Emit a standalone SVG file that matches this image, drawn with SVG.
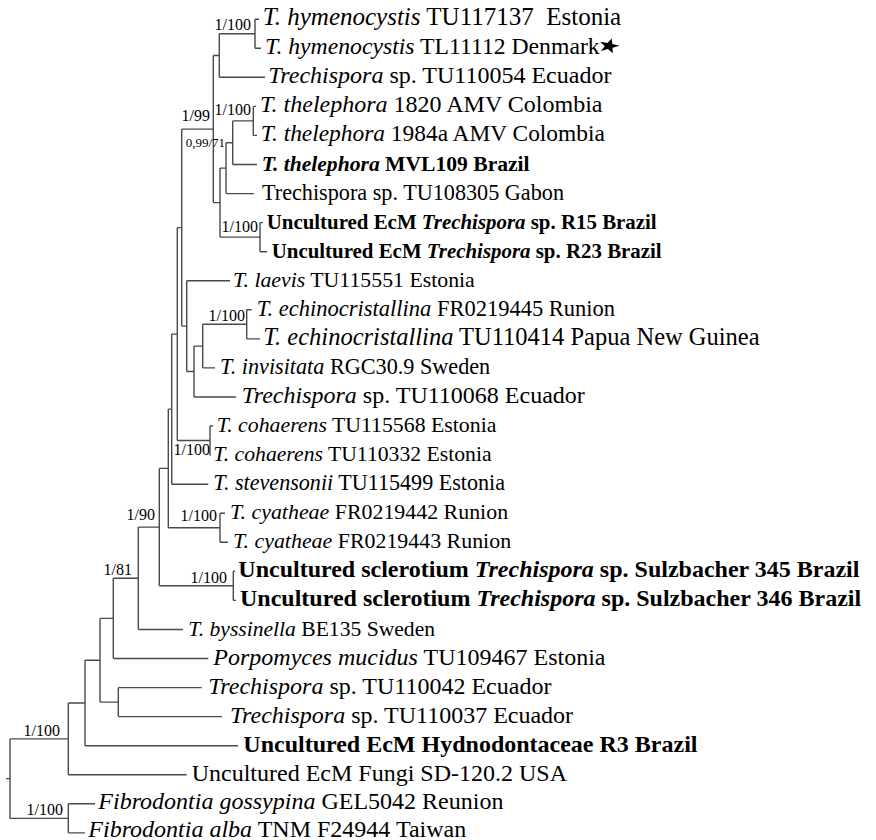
<svg xmlns="http://www.w3.org/2000/svg" width="876" height="840" viewBox="0 0 876 840">
<style>
.br{fill:none;stroke:#4a4a4a;stroke-width:1.4}
.t{font-family:"Liberation Serif","Times New Roman",serif;font-size:24px;fill:#000}
.b{font-weight:bold}
.i{font-style:italic}
.s{font-family:"Liberation Serif","Times New Roman",serif;font-size:16px;fill:#000;text-anchor:end}
.s2{font-size:13px}
</style>
<rect width="876" height="840" fill="#fff"/>
<g id="connectors" class="br">
<path d="M6,778.6H10M10,738.9V818.4M10,738.9H68.3M10,818.4H68.3"/>
<path d="M68.3,703V774.8M68.3,703H85M68.3,774.8H186.7"/>
<path d="M68.3,803.8V832.9M68.3,803.8H95M68.3,832.9H85"/>
<path d="M85,660.2V745.7M85,660.2H100M85,745.7H238"/>
<path d="M100,618.4V702.1M100,618.4H113.3M100,702.1H118.3"/>
<path d="M118.3,687.6V716.6M118.3,687.6H201.7M118.3,716.6H222"/>
<path d="M113.3,578.3V658.5M113.3,578.3H138.3M113.3,658.5H208.3"/>
<path d="M138.3,527.1V629.5M138.3,527.1H159.3M138.3,629.5H183"/>
<path d="M159.3,468.4V585.8M159.3,468.4H168.3M159.3,585.8H233.3"/>
<path d="M233.3,571.3V600.4M233.3,571.3H235M233.3,600.4H236"/>
<path d="M168.3,409.1V527.7M168.3,409.1H171.7M168.3,527.7H220"/>
<path d="M220,513.2V542.3M220,513.2H225M220,542.3H228"/>
<path d="M171.7,334.1V484.2M171.7,334.1H177.3M171.7,484.2H208.3"/>
<path d="M177.3,227.6V440.5M177.3,227.6H181.7M177.3,440.5H210"/>
<path d="M210,426V455.1M210,426H213M210,455.1H211"/>
<path d="M181.7,129.1V326.1M181.7,129.1H213.3M181.7,326.1H186.7"/>
<path d="M186.7,280.7V371.5M186.7,280.7H230M186.7,371.5H194"/>
<path d="M194,346.1V397M194,346.1H202.7M194,397H236"/>
<path d="M202.7,324.3V367.9M202.7,324.3H246.7M202.7,367.9H215"/>
<path d="M246.7,309.8V338.9M246.7,309.8H251.7M246.7,338.9H260"/>
<path d="M213.3,55.5V202.6M213.3,55.5H219.3M213.3,202.6H220"/>
<path d="M219.3,33.75V77.3M219.3,33.75H255M219.3,77.3H265"/>
<path d="M255,19.2V48.3M255,19.2H259M255,48.3H261"/>
<path d="M220,168.1V237.1M220,168.1H226M220,237.1H260"/>
<path d="M260,222.6V251.7M260,222.6H263M260,251.7H267"/>
<path d="M226,142.7V193.6M226,142.7H232.7M226,193.6H254"/>
<path d="M232.7,120.9V164.5M232.7,120.9H253.3M232.7,164.5H257"/>
<path d="M253.3,106.4V135.4M253.3,106.4H256M253.3,135.4H257"/>
</g>
<g id="supports">
<text id="s-hym" class="s" x="251" y="30">1/100</text>
<text id="s-the" class="s" x="251" y="115">1/100</text>
<text id="s-199" class="s" x="210" y="121">1/99</text>
<text id="s-09971" class="s s2" x="225" y="147">0,99/71</text>
<text id="s-r15" class="s" x="258" y="232">1/100</text>
<text id="s-ech" class="s" x="245" y="321">1/100</text>
<text id="s-coh" class="s" x="210" y="455">1/100</text>
<text id="s-190" class="s" x="155" y="520">1/90</text>
<text id="s-cya" class="s" x="217" y="521">1/100</text>
<text id="s-scl" class="s" x="227" y="583">1/100</text>
<text id="s-181" class="s" x="132" y="575">1/81</text>
<text id="s-w" class="s" x="60" y="736">1/100</text>
<text id="s-fib" class="s" x="63" y="815">1/100</text>
</g>
<g id="tips">
<g id="n0"><text class="t" x="262.7" y="25.2" style="font-size:25px" xml:space="preserve"><tspan class="i">T. hymenocystis</tspan> TU117137  Estonia</text></g>
<g id="n1"><text class="t" x="265" y="54.3" style="font-size:23.7px"><tspan class="i">T. hymenocystis</tspan> TL11112 Denmark</text>
<polygon points="613.7,35.9 614.3,43.4 621.5,45.5 614.5,48.3 614.8,55.8 609.9,50.1 602.8,52.6 606.8,46.2 602.2,40.3 609.5,42.1" fill="#000" transform="translate(609 46) scale(1 0.75) translate(-611 -46)"/></g>
<g id="n2"><text class="t" x="268.3" y="83.3"><tspan class="i">Trechispora</tspan> sp. TU110054 Ecuador</text></g>
<g id="n3"><text class="t" x="260" y="112.4"><tspan class="i">T. thelephora</tspan> 1820 AMV Colombia</text></g>
<g id="n4"><text class="t" x="260.7" y="141.4" style="font-size:23.4px"><tspan class="i">T. thelephora</tspan> 1984a AMV Colombia</text></g>
<g id="n5"><text class="t b" x="261.7" y="170.5" style="font-size:21.6px"><tspan class="i">T. thelephora</tspan> MVL109 Brazil</text></g>
<g id="n6"><text class="t" x="262" y="199.6" style="font-size:22.2px">Trechispora sp. TU108305 Gabon</text></g>
<g id="n7"><text class="t b" x="266.7" y="228.6" style="font-size:20.9px">Uncultured EcM <tspan class="i">Trechispora</tspan> sp. R15 Brazil</text></g>
<g id="n8"><text class="t b" x="271.7" y="257.7" style="font-size:20.9px">Uncultured EcM <tspan class="i">Trechispora</tspan> sp. R23 Brazil</text></g>
<g id="n9"><text class="t" x="233" y="286.7" style="font-size:21.8px"><tspan class="i">T. laevis</tspan> TU115551 Estonia</text></g>
<g id="n10"><text class="t" x="256.7" y="315.8" style="font-size:22.5px"><tspan class="i">T. echinocristallina</tspan> FR0219445 Runion</text></g>
<g id="n11"><text class="t" x="263.3" y="344.9" style="font-size:24.5px"><tspan class="i">T. echinocristallina</tspan> TU110414 Papua New Guinea</text></g>
<g id="n12"><text class="t" x="220" y="373.9" style="font-size:22.2px"><tspan class="i">T. invisitata</tspan> RGC30.9 Sweden</text></g>
<g id="n13"><text class="t" x="241.7" y="403"><tspan class="i">Trechispora</tspan> sp. TU110068 Ecuador</text></g>
<g id="n14"><text class="t" x="216.7" y="432" style="font-size:21.8px"><tspan class="i">T. cohaerens</tspan> TU115568 Estonia</text></g>
<g id="n15"><text class="t" x="213.3" y="461.1" style="font-size:21.7px"><tspan class="i">T. cohaerens</tspan> TU110332 Estonia</text></g>
<g id="n16"><text class="t" x="213.3" y="490.2" style="font-size:22.1px"><tspan class="i">T. stevensonii</tspan> TU115499 Estonia</text></g>
<g id="n17"><text class="t" x="230" y="519.2" style="font-size:21.9px"><tspan class="i">T. cyatheae</tspan> FR0219442 Runion</text></g>
<g id="n18"><text class="t" x="233" y="548.3" style="font-size:21.9px"><tspan class="i">T. cyatheae</tspan> FR0219443 Runion</text></g>
<g id="n19"><text class="t b" x="238.3" y="577.3">Uncultured sclerotium <tspan class="i">Trechispora</tspan> sp. Sulzbacher 345 Brazil</text></g>
<g id="n20"><text class="t b" x="240" y="606.4">Uncultured sclerotium <tspan class="i">Trechispora</tspan> sp. Sulzbacher 346 Brazil</text></g>
<g id="n21"><text class="t" x="188.3" y="635.5" style="font-size:21.6px"><tspan class="i">T. byssinella</tspan> BE135 Sweden</text></g>
<g id="n22"><text class="t" x="213.3" y="664.5"><tspan class="i">Porpomyces mucidus</tspan> TU109467 Estonia</text></g>
<g id="n23"><text class="t" x="208.3" y="693.6"><tspan class="i">Trechispora</tspan> sp. TU110042 Ecuador</text></g>
<g id="n24"><text class="t" x="230" y="722.6"><tspan class="i">Trechispora</tspan> sp. TU110037 Ecuador</text></g>
<g id="n25"><text class="t b" x="243.3" y="751.7">Uncultured EcM Hydnodontaceae R3 Brazil</text></g>
<g id="n26"><text class="t" x="191.7" y="780.8">Uncultured EcM Fungi SD-120.2 USA</text></g>
<g id="n27"><text class="t" x="98.3" y="809.3"><tspan class="i">Fibrodontia gossypina</tspan> GEL5042 Reunion</text></g>
<g id="n28"><text class="t" x="88.3" y="836.5"><tspan class="i">Fibrodontia alba</tspan> TNM F24944 Taiwan</text></g>
</g>
</svg>
